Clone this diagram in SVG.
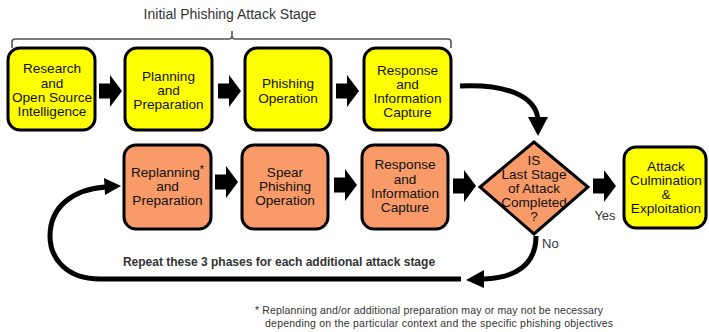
<svg xmlns="http://www.w3.org/2000/svg" width="709" height="332" viewBox="0 0 709 332">
  <style>
    .box { stroke: #000; stroke-width: 3; }
    .yellow { fill: #FFFF00; }
    .orange { fill: #F89B68; }
    .lbl { font-family: "Liberation Sans", Arial, sans-serif; font-size: 13.6px; fill: #111; text-anchor: middle; }
    .note { font-family: "Liberation Sans", Arial, sans-serif; fill: #333; }
    .flow { fill: none; stroke: #000; stroke-width: 5; }
    .brace { fill: none; stroke: #555; stroke-width: 1.6; }
  </style>
  <defs>
    <!-- block arrow, tip at (23,0) -->
    <path id="blk" d="M0,-7.5 H11 V-16 L23,0 L11,16 V7.5 H0 Z" fill="#000"/>
  </defs>
  <rect width="709" height="332" fill="#fff"/>

  <!-- stage bracket -->
  <g id="stage-brace">
    <text class="note" x="230" y="19" font-size="14" text-anchor="middle" fill="#404040">Initial Phishing Attack Stage</text>
    <path class="brace" d="M12,48 V42 Q12,39 15,39 H229 Q232,39 232,36 V31 M232,36 Q232,39 235,39 H448 Q451,39 451,42 V48"/>
  </g>

  <!-- top row -->
  <g id="research">
    <rect class="box yellow" x="8" y="48" width="87" height="82" rx="12"/>
    <text class="lbl" x="52" y="73">Research</text>
    <text class="lbl" x="52" y="88">and</text>
    <text class="lbl" x="52" y="102">Open Source</text>
    <text class="lbl" x="52" y="116">Intelligence</text>
  </g>
  <g id="planning">
    <rect class="box yellow" x="125" y="48" width="87" height="82" rx="12"/>
    <text class="lbl" x="168.5" y="81">Planning</text>
    <text class="lbl" x="168.5" y="95">and</text>
    <text class="lbl" x="168.5" y="109">Preparation</text>
  </g>
  <g id="phishing-op">
    <rect class="box yellow" x="245" y="48" width="86" height="82" rx="12"/>
    <text class="lbl" x="288" y="88">Phishing</text>
    <text class="lbl" x="288" y="103">Operation</text>
  </g>
  <g id="response-1">
    <rect class="box yellow" x="364" y="48" width="87" height="82" rx="12"/>
    <text class="lbl" x="407.5" y="75">Response</text>
    <text class="lbl" x="407.5" y="89">and</text>
    <text class="lbl" x="407.5" y="103">Information</text>
    <text class="lbl" x="407.5" y="117">Capture</text>
  </g>

  <!-- second row -->
  <g id="replanning">
    <rect class="box orange" x="124" y="145" width="87" height="84" rx="12"/>
    <text class="lbl" x="167.5" y="177">Replanning<tspan font-size="11" dy="-4">*</tspan></text>
    <text class="lbl" x="167.5" y="191">and</text>
    <text class="lbl" x="167.5" y="205">Preparation</text>
  </g>
  <g id="spear-phishing">
    <rect class="box orange" x="242" y="145" width="86" height="84" rx="12"/>
    <text class="lbl" x="285" y="177">Spear</text>
    <text class="lbl" x="285" y="191">Phishing</text>
    <text class="lbl" x="285" y="205">Operation</text>
  </g>
  <g id="response-2">
    <rect class="box orange" x="362" y="145" width="86" height="84" rx="12"/>
    <text class="lbl" x="405" y="169">Response</text>
    <text class="lbl" x="405" y="184">and</text>
    <text class="lbl" x="405" y="198">Information</text>
    <text class="lbl" x="405" y="212">Capture</text>
  </g>
  <g id="decision">
    <polygon class="orange" points="534,142 588,187 534,234 480,187" stroke="#000" stroke-width="3" stroke-linejoin="miter"/>
    <text class="lbl" x="534" y="165">IS</text>
    <text class="lbl" x="534" y="179">Last Stage</text>
    <text class="lbl" x="534" y="193">of Attack</text>
    <text class="lbl" x="534" y="207">Completed</text>
    <text class="lbl" x="534" y="221">?</text>
  </g>
  <g id="culmination">
    <rect class="box yellow" x="624" y="147" width="82" height="81" rx="12"/>
    <text class="lbl" x="666" y="171">Attack</text>
    <text class="lbl" x="666" y="185">Culmination</text>
    <text class="lbl" x="666" y="199">&amp;</text>
    <text class="lbl" x="666" y="213">Exploitation</text>
  </g>

  <!-- connectors -->
  <g id="connectors">
    <use href="#blk" x="99" y="91"/>
    <use href="#blk" x="218" y="91"/>
    <use href="#blk" x="336" y="91"/>
    <use href="#blk" x="215" y="182"/>
    <use href="#blk" x="334" y="185"/>
    <use href="#blk" x="453" y="186"/>
    <use href="#blk" x="593" y="186"/>

    <!-- into the decision -->
    <path class="flow" d="M460,86 C505,84 535,95 538,119"/>
    <polygon points="528,117 548,117 538,136" fill="#000"/>

    <!-- "No" loop back to replanning -->
    <path class="flow" d="M536,236 C536,265 515,278 484,279"/>
    <polygon points="484,270 484,288 466,280" fill="#000"/>
    <path class="flow" d="M461,279 H100 C66,279 50,258 50,236 C50,206 74,189 106,187"/>
    <polygon points="104,178 121,186 105,195" fill="#000"/>

    <text class="note" x="605" y="220" font-size="13" text-anchor="middle">Yes</text>
    <text class="note" x="542" y="248" font-size="13">No</text>
    <text class="note" x="279" y="266" font-size="12" font-weight="bold" text-anchor="middle" fill="#222">Repeat these 3 phases for each additional attack stage</text>
  </g>

  <!-- footnote -->
  <g id="footnote">
    <text class="note" x="255" y="314" font-size="10.5" textLength="348" lengthAdjust="spacing">* Replanning  and/or additional  preparation may or may not be necessary</text>
    <text class="note" x="265" y="327" font-size="10.5" textLength="348" lengthAdjust="spacing">depending  on the particular context and the specific phishing  objectives</text>
  </g>
</svg>
